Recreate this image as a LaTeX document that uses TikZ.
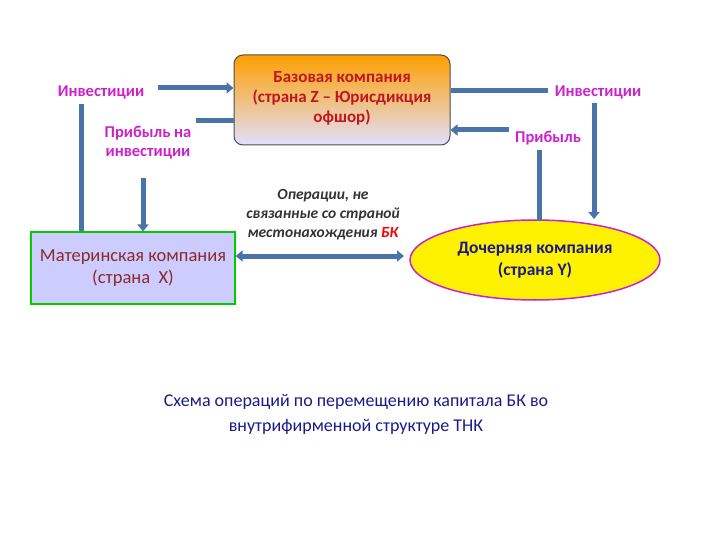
\documentclass[tikz,border=0pt]{standalone}
\usepackage{fontspec}
\setmainfont{Carlito}
\usetikzlibrary{arrows.meta,shapes.geometric}
\definecolor{arr}{HTML}{4A74A8}
\definecolor{mag}{HTML}{CC22CC}
\definecolor{dred}{HTML}{C0161C}
\definecolor{brn}{HTML}{8B2A2A}
\definecolor{dblue}{HTML}{1A1A8C}
\tikzset{
  flow/.style={draw=arr, line width=5pt},
  flowh/.style={flow, -{Triangle[length=7pt,width=11pt]}},
  lbl/.style={font=\bfseries\fontsize{16.5}{19}\selectfont, text=mag, align=center},
}
\begin{document}
\begin{tikzpicture}[x=1pt,y=-1pt]
\useasboundingbox (0,0) rectangle (720,540);
\node[draw=black!70, line width=1pt, rounded corners=9pt, minimum width=216pt, minimum height=90pt,
  top color=orange!75!yellow, bottom color=blue!12] (base) at (342,100) {};
\node[align=center, text=dred, font=\bfseries\fontsize{17}{20}\selectfont] (basetxt) at (342,98)
  {Базовая компания\\(страна Z -- Юрисдикция\\офшор)};
\node[draw=green!80!black, line width=1.2pt, fill=blue!20, minimum width=204pt, minimum height=72pt,
  align=center, text=brn, font=\fontsize{18.5}{22}\selectfont] (mother) at (133,268)
  {Материнская компания\\(страна~ X)};
\node[ellipse, draw=mag, line width=1.5pt, fill=yellow, minimum width=250pt, minimum height=80pt,
  align=center, text=dblue, font=\bfseries\fontsize{17.5}{22}\selectfont] (sub) at (535,260)
  {Дочерняя компания\\(страна Y)};
\node[lbl] (invL) at (101,92) {Инвестиции};
\node[lbl] (profL) at (148,143) {Прибыль на\\инвестиции};
\node[lbl] (invR) at (598,92) {Инвестиции};
\node[lbl] (profR) at (548,138) {Прибыль};
\node[align=center, font=\itshape\bfseries\fontsize{15.5}{19}\selectfont, text=black!80] (ops) at (323,215)
  {Операции, не\\связанные со страной\\местонахождения {\color{red}БК}};
\node[align=center, text=dblue, font=\fontsize{18}{25}\selectfont] (cap) at (356,414)
  {Схема операций по перемещению капитала БК во\\внутрифирменной структуре ТНК};
% left side
\coordinate (a1) at (158,88);
\draw[flowh] (a1) -- (a1 -| base.west);
\coordinate (a2) at (196,121);
\draw[flow] (a2) -- (a2 -| base.west);
\coordinate (a3) at (143,178);
\draw[flowh] (a3) -- (a3 |- mother.north);
\coordinate (a4) at (81,104);
\draw[flow] (a4) -- (a4 |- mother.north);
% right side
\coordinate (b1) at (548,91);
\draw[flow] (base.east |- b1) -- (b1);
\coordinate (b2) at (509,130);
\draw[flowh] (b2) -- (b2 -| base.east);
\coordinate (b3) at (594,103);
\coordinate (b3e) at (594,219);
\draw[flowh] (b3) -- (b3e);
\coordinate (b4) at (539,150);
\coordinate (b4e) at (539,221);
\draw[flow] (b4) -- (b4e);
% double arrow
\coordinate (d2) at (404,256);
\draw[flow, {Triangle[length=7pt,width=11pt]}-{Triangle[length=7pt,width=11pt]}] (mother.east |- d2) -- (d2);
\end{tikzpicture}
\end{document}
